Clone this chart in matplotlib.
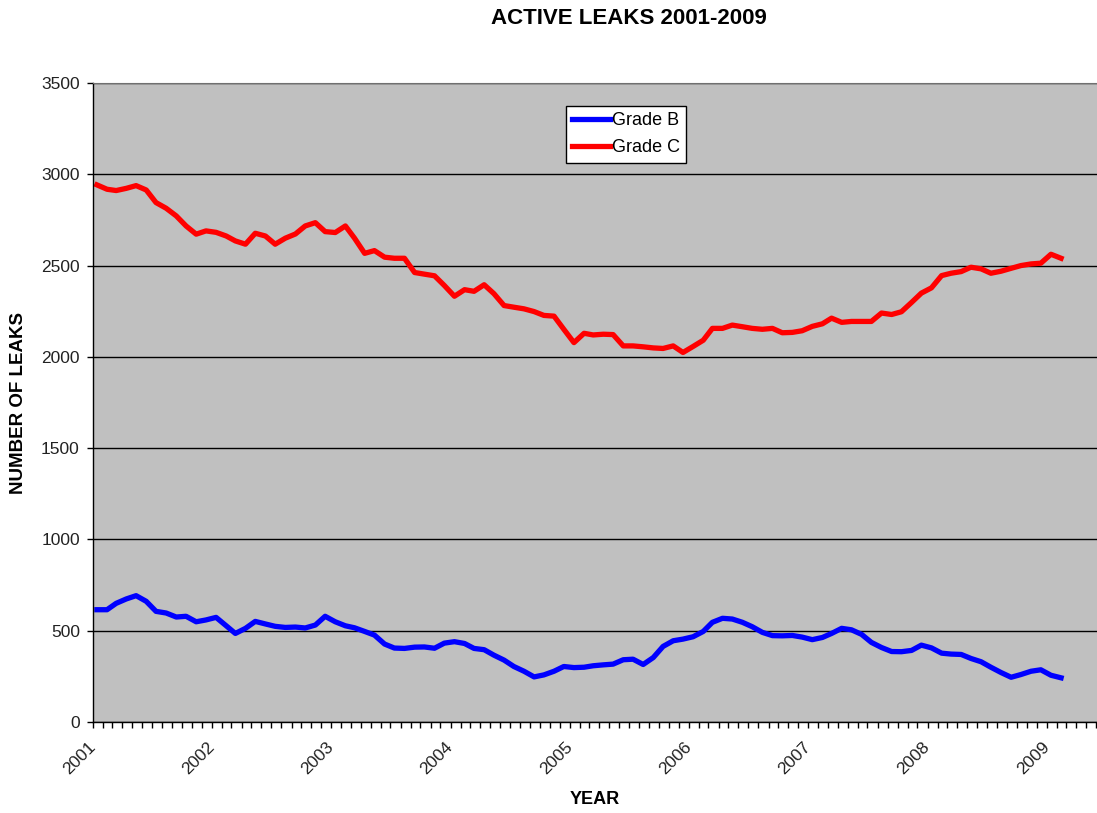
import numpy as np
import pandas as pd
import matplotlib
matplotlib.use("Agg")
import matplotlib.pyplot as plt
import matplotlib.dates as mdates

plt.rcParams["font.family"] = ["Liberation Sans", "DejaVu Sans"]

# monthly counts, Jan 2001 .. Feb 2009
grade_b = [
    615, 615, 650, 674, 692, 661, 606, 597, 575, 579, 549, 559,
    573, 527, 485, 513, 551, 537, 524, 518, 520, 515, 531, 579,
    549, 527, 516, 496, 476, 427, 405, 403, 410, 411, 404, 432,
    440, 430, 403, 396, 366, 339, 304, 278, 247, 258, 278, 304,
    298, 300, 308, 313, 317, 341, 344, 315, 353, 414, 445, 454,
    467, 496, 546, 568, 564, 546, 522, 491, 473, 472, 474, 465,
    451, 463, 485, 513, 505, 480, 436, 408, 386, 385, 392, 421,
    406, 377, 372, 370, 348, 330, 300, 271, 245, 260, 278, 286,
    256, 242,
]
grade_c = [
    2942, 2918, 2911, 2923, 2938, 2914, 2845, 2814, 2772, 2717, 2672, 2690,
    2682, 2662, 2635, 2617, 2677, 2662, 2617, 2650, 2673, 2717, 2735, 2686,
    2681, 2717, 2650, 2567, 2582, 2546, 2540, 2540, 2462, 2453, 2444, 2391,
    2332, 2368, 2359, 2395, 2346, 2281, 2272, 2263, 2248, 2227, 2223, 2151,
    2078, 2129, 2120, 2124, 2122, 2060, 2060, 2055, 2049, 2046, 2060, 2024,
    2057, 2091, 2156, 2156, 2174, 2165, 2156, 2151, 2156, 2132, 2134, 2143,
    2167, 2181, 2212, 2189, 2194, 2194, 2194, 2240, 2232, 2247, 2298, 2349,
    2378, 2445, 2458, 2467, 2491, 2482, 2458, 2469, 2485, 2500, 2509, 2513,
    2562, 2540,
]
months = pd.date_range("2001-01-01", periods=len(grade_b), freq="MS") + pd.Timedelta(days=12)

fig = plt.figure(figsize=(10.97, 8.13), dpi=100)
ax = fig.add_axes([93 / 1097, 1 - 722 / 813, 1 - 93 / 1097, (722 - 83) / 813])
ax.set_facecolor("#C0C0C0")

ax.plot(months, grade_b, color="#0000FF", lw=3.8, label="Grade B", solid_joinstyle="round")
ax.plot(months, grade_c, color="#FF0000", lw=3.8, label="Grade C", solid_joinstyle="round")

ax.set_ylim(0, 3500)
ax.set_yticks(np.arange(0, 3501, 500))
ax.set_xlim(pd.Timestamp("2001-01-01"), pd.Timestamp("2009-06-03"))
ax.xaxis.set_major_locator(mdates.YearLocator())
ax.xaxis.set_major_formatter(mdates.DateFormatter("%Y"))
ax.xaxis.set_minor_locator(mdates.MonthLocator())

ax.yaxis.grid(True, color="black", lw=1.0)
ax.set_axisbelow(True)

ax.tick_params(axis="both", which="both", direction="out", length=4.5, width=1.0,
               color="black", labelsize=12.5, labelcolor="#222222")
ax.tick_params(axis="y", pad=5)
ax.tick_params(axis="x", pad=12)
for lbl in ax.get_xticklabels():
    lbl.set_rotation(45)
    lbl.set_ha("right")
    lbl.set_va("center")
    lbl.set_rotation_mode("anchor")

for side in ("left", "bottom"):
    ax.spines[side].set_color("black")
    ax.spines[side].set_linewidth(1.0)
ax.spines["top"].set_color("#707070")
ax.spines["right"].set_visible(False)

ax.set_ylabel("NUMBER OF LEAKS", fontsize=13.5, fontweight="bold", labelpad=10)
ax.set_xlabel("YEAR", fontsize=13, fontweight="bold", labelpad=10)
fig.text(629 / 1097, 1 - 19 / 813, "ACTIVE LEAKS 2001-2009", ha="center", va="center",
         fontsize=16, fontweight="bold")

leg = ax.legend(loc="upper left", bbox_to_anchor=(566 / 1097, 1 - 106 / 813),
                bbox_transform=fig.transFigure, fontsize=13, frameon=True, fancybox=False,
                edgecolor="black", framealpha=1, borderpad=0.35, handlelength=2.1,
                handletextpad=0.1, labelspacing=0.55, borderaxespad=0)
leg.get_frame().set_linewidth(1.0)

fig.savefig("out.png", dpi=100)
